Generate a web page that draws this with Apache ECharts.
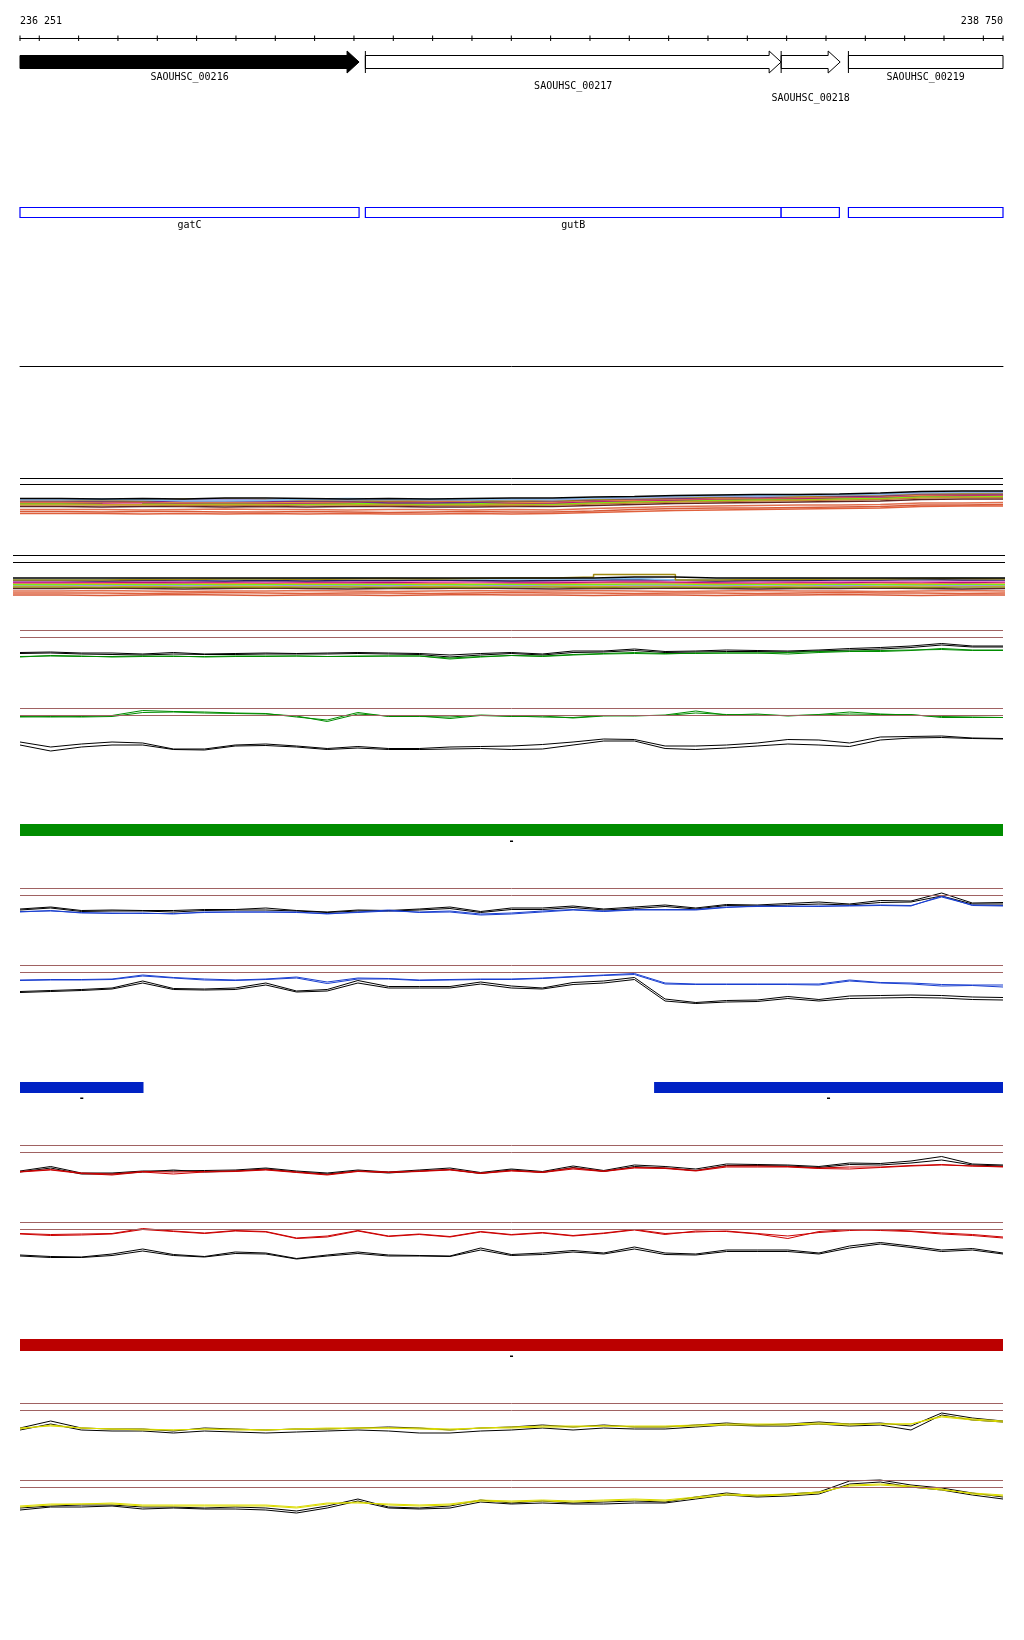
<!DOCTYPE html>
<html><head><meta charset="utf-8">
<script src="https://cdn.jsdelivr.net/npm/echarts@6/dist/echarts.min.js"></script>
<style>html,body{margin:0;padding:0;background:#fff}#chart{width:1024px;height:1640px}</style>
</head><body><div id="chart"></div>
<script>
// ---------- coordinates of the view (bp) ----------
const VIEW_START = 236251;
const VIEW_END = 238750;
const RULER_LABELS = [236251, 238750];
const RULER_TICKS = [236251,236300,236400,236500,236600,236700,236800,236900,237000,237100,237200,237300,237400,237500,237600,237700,237800,237900,238000,238100,238200,238300,238400,238500,238600,238700,238750];

// ---------- genes ----------
const GENE_NAMES = ['SAOUHSC_00216','SAOUHSC_00217','SAOUHSC_00218','SAOUHSC_00219'];
const GENE_START = [236000, 237129, 238186, 238357];
const GENE_END = [237113, 238186, 238336, 238900];
const GENE_FILLED = [1, 0, 0, 0];
const GENE_LABEL_ROW = [0, 1, 2, 0];

// ---------- domains ----------
const DOMAIN_NAMES = ['gatC', 'gutB', '', ''];
const DOMAIN_START = [236000, 237129, 238186, 238357];
const DOMAIN_END = [237113, 238186, 238334, 238900];

// ---------- strand bars ----------
const GREEN_BAR_START = [236251];
const GREEN_BAR_END = [238750];
const GREEN_BAR_LABEL = ['-'];
const BLUE_BAR_START = [236251, 237863];
const BLUE_BAR_END = [236565, 238750];
const BLUE_BAR_LABEL = ['-', '-'];
const RED_BAR_START = [236251];
const RED_BAR_END = [238750];
const RED_BAR_LABEL = ['-'];

// ---------- sample positions for the signal lines ----------
const SAMPLE_POS = [236251,236329,236407,236485,236563,236641,236720,236798,236876,236954,237032,237110,237188,237266,237344,237422,237500,237579,237657,237735,237813,237891,237969,238047,238125,238203,238282,238360,238438,238516,238594,238672,238750];

// green section
const GA_REF = [34.5, 27.5];
const GA_black1 = [12.5,13,12,12,11,12.5,11,11.5,12,11.5,12,12.5,12,11.5,10,11.5,12.5,11,14,14,16,13.5,14,15,14.5,14,15,16.5,17.5,19,21.5,19,19];
const GA_black2 = [11.5,12,11,10.5,10,11,10.5,10.5,11,11,11,11.5,11,10.5,8,10,11.5,10,12.5,13,14.5,12.5,13,13.5,13.5,13,14,15,16,17.5,20,18,18];
const GA_green1 = [8,9.5,9,8,8.5,9,8,8.5,8.5,9,8.5,9,9,9,6,8,9.5,9,10.5,11.5,12.5,11.5,11.5,12,12,11,12.5,13.5,13.5,14.5,16.5,15,15];
const GA_green2 = [8.5,9,8.5,8.5,9,8.5,8.5,9,9,9,8.5,8.5,9,9,7,8.5,9.5,8.5,10,11,11.5,11,12,12,12,12.5,13.5,14,14.5,15,15.5,14.5,14.5];
const GB_REF = [51.5, 44.5];
const GB_green1 = [43.5,43,43.5,44.5,49.5,48.5,48,47,46.5,43,40,47.5,43.5,43.5,43,45,44,43,42.5,44.5,44,45,49,45,46,44,45.5,48,46,45,43.5,43,42.5];
const GB_green2 = [43,43.5,43,43.5,47.5,48,47,46.5,46,44,38.5,46,44,44,41.5,44.5,43.5,44,42,44,44.5,44.5,47,45.5,45,44.5,45,46,45.5,45.5,42.5,42.5,42.5];
const GB_black1 = [18,13,16,18,17,11,11,15,16,14,11.5,13.5,11.5,11.5,13,13.5,14,15.5,18,21,20.5,14,14,15,17,20.5,20,17,23,23.5,24,22,21.5];
const GB_black2 = [15,9,13,15,15,10.5,10,14,14.5,13,10.5,12,10.5,10.5,11,11.5,10.5,11,15,19,19,11.5,10.5,12,14,16,15,13.5,20,22,22.5,21.5,21];

// blue section
const BA_REF = [31.5, 24.5];
const BA_black1 = [11,13,9.5,10,9.5,9.5,10.5,10.5,12,9.5,8,10,9.5,11,13,8.5,12,12,14,11,13,15,12,15.5,15,16.5,18,16,19.5,19,27,17,17.5];
const BA_black2 = [10,12,8.5,9,9,8,9.5,10,10,9,7.5,9,9,10,11.5,7.5,10.5,10.5,12.5,10,11.5,13.5,11,14.5,14,15,16,15,17.5,18,24,16,16];
const BA_blue1 = [8,9.5,7,7,6.5,6.5,7.5,8,8,7.5,6.5,7.5,9,8,9,6,7,9,10.5,9,10.5,10.5,10.5,13,13.5,14,13.5,14.5,15,14.5,23,15,14.5];
const BA_blue2 = [8.5,9,7.5,6.5,7,6,8,8,8,8,6,8,10,7.5,8,5,6,8,10,8.5,10,10,10,12.5,14,13.5,14,14,14.5,14,24,14.5,14];
const BB_REF = [44.5, 37.5];
const BB_blue1 = [30,30.5,30.5,31,35,32.5,31,30,31,33,28,32,31.5,30,30.5,31,31,32,33.5,35,36.5,27,26,26,26,26,26,30,27.5,27,25.5,25,25];
const BB_blue2 = [29.5,30,30,30.5,34,32,30,29.5,30.5,32,26.5,31,31,29.5,30,30.5,30.5,31.5,33,34.5,35.5,26,25.5,25.5,25.5,25.5,25,29,27,26,24,24.5,23];
const BB_black1 = [18.5,19.5,20.5,22,29,21.5,21,22,27,19,20.5,29.5,23.5,23.5,23.5,28,24,22,27.5,29,32.5,11,7.5,9.5,10,13.5,10.5,14,14.5,15,14.5,13,12.5];
const BB_black2 = [17.5,18.5,19.5,21,27,20.5,20,20.5,25,18,19,27,22,22,22,26,22,21,25.5,27,30.5,9,6.5,8,8.5,11.5,9,11.5,12,12.5,12,10.5,10];

// red section
const RA_REF = [34.5, 27.5];
const RA_black1 = [9,13.5,7,7,9,9,9.5,10,12,9,7,10,8,10,12,7.5,11,8.5,14,9.5,15,13.5,11,16,15.5,15,13.5,17,16.5,19,23.5,16,15];
const RA_black2 = [8,12,6,6,8,10,8,9,11,8,6,9,7,9,10.5,6.5,10,7.5,12.5,8.5,13.5,12,9.5,14.5,14.5,14,12.5,15.5,15,17,20,15,14];
const RA_red1 = [8,10,6.5,5,8,6,8,8.5,10,7.5,5,8.5,7.5,8.5,10,6.5,9,7.5,11,8.5,12,11.5,9,13,13,13,11.5,11,12.5,14,15,14,13.5];
const RA_red2 = [8.5,10.5,7,6,8.5,8,8.5,9,10.5,8,5.5,9,8,9,10.5,7,9.5,8,12,9,12.5,12,9.5,14,14,13.5,12,13,13,14.5,15.5,14,13];
const RB_REF = [42.5, 35.5];
const RB_red1 = [31.5,30.5,31,31.5,36.5,34,32,34.5,33.5,27,29,34.5,29,31,28.5,33.5,30.5,32.5,29.5,32,35.5,31.5,33,34,31.5,29,32.5,34.5,35.5,34,32,30.5,28];
const RB_red2 = [31,29.5,30,31,35.5,33.5,31.5,34,33,26.5,28,34,28.5,30.5,28,33,30,32,29,31.5,35,30.5,34,33.5,31,26.5,33.5,35.5,34.5,33.5,31,29.5,27];
const RB_black1 = [10,8.5,8,11,16,10.5,8.5,13,12,6.5,10,13,10,9.5,9,17,10.5,12,14.5,12,18,12,11,15,15,15,12,19,22.5,19,15,16.5,12];
const RB_black2 = [9,7.5,7.5,9.5,14,9.5,8,11.5,11,6,9,11.5,9,9,8.5,15,9.5,10.5,13,11,16,10.5,10,13.5,13.5,13.5,11,17,21,17.5,13.5,15,11];

// yellow section
const YA_REF = [36.5, 29.5];
const YA_black1 = [12,19,12,11,11,9,12,11,10,11,11,12,13,12,10,12,13,15,13,15,13,13,15,17,15,16,18,16,17,14,27,22,19];
const YA_black2 = [10,16,10,9,9,7,9,8,7,8,9,10,9,7,7,9,10,12,10,12,11,11,13,15,14,14,16,14,15,10,25,20,18];
const YA_yellow1 = [11,15,12,11,11,10,11,11,10,11,11,12,12,11,10,12,12,13,13,14,13,13,14,15,15,15,16,15,16,16,24,21,19];
const YA_yellow2 = [12,14,12,11,10,10,11,10,10,11,12,12,12,12,11,12,13,14,14,14,14,14,15,16,16,16,17,16,16,16,23,20,18];
const YB_REF = [39.5, 32.5];
const YB_black1 = [12,14,15,15,13,13,12,13,12,9,14,21,13,12,14,20,17,19,17,18,19,18,23,27,24,26,28,39,40,35,32,27,23];
const YB_black2 = [10,13,13,14,11,12,11,11,10,7,12,19,12,11,12,18,16,17,16,16,17,17,21,25,23,24,26,36,38,33,30,25,21];
const YB_yellow1 = [13,15,16,16,14,14,14,14,14,12,16,18,15,14,15,19,18,19,18,19,20,19,22,25,24,25,27,35,36,34,31,26,24];
const YB_yellow2 = [14,16,16,17,15,15,15,15,15,13,17,17,16,15,16,20,19,20,19,20,21,20,23,26,25,26,28,34,35,33,30,27,25];

// ---------- multi-sample tracks ----------
const T1_POS = [236251,236355,236459,236563,236668,236772,236876,236980,237084,237188,237293,237397,237501,237605,237709,237813,237917,238021,238126,238230,238334,238438,238542,238646,238750];
const T1_REF = [41.5, 35.5];
const T1_black =     [21.5,21,21.5,21,22,22,21.5,21,21.5,21,21.5,22,22,23,23.5,24.5,25,25.5,25.5,26,27,28.5,29,29,29];
const T1_lightblue = [21,21,20.5,19,19,19.5,21,21.5,21,21,20.5,21,21,22,23,24,24.5,24.5,25,25.5,26,28,28,28.5,28.5];
const T1_lavender =  [20,20.5,20,20,20.5,20,20.5,20,20.5,20,20,20.5,20,21.5,22,23,24,23.5,24.5,25,25.5,27,27.5,27.5,28];
const T1_olive =     [19.5,19.5,19,21,21,20.5,19.5,19.5,19,19.5,19.5,19,19.5,20.5,21.5,22.5,23,23.5,23.5,24.5,25,26.5,26.5,27,27];
const T1_purple =    [19,18.5,19,18.5,18.5,18.5,19,18.5,17,17,17.5,18.5,19,20,21,21.5,22.5,22.5,23.5,23.5,24,26,26,26,26.5];
const T1_orange =    [18,18,18.5,17.5,18,17.5,18,18,17.5,18,18,17.5,18,19.5,20,21,21.5,22,22.5,23,23.5,25,25.5,25.5,25.5];
const T1_magenta =   [17.5,17,17.5,17,17.5,17,17,17.5,18.5,18.5,18,17,17,18.5,19.5,20,21,21.5,21.5,22.5,23,24.5,24.5,25,25];
const T1_green =     [16.5,16.5,20,16.5,16.5,16.5,16,16.5,16.5,16,16.5,16.5,16,17.5,18.5,19.5,20,20.5,21,21.5,22,23.5,24,24,24.5];
const T1_gold =      [16,15.5,15.5,16,15.5,16,15.5,15.5,16,15.5,15.5,16,15.5,17,18,18.5,19.5,20,20,21,21.5,23,23,23.5,23.5];
const T1_peru =      [15,15,15,14.5,15,14.5,15,15,14.5,15,14.5,14.5,15,16,17,18,18.5,19,19.5,20,20.5,22,22.5,22.5,22.5];
const T1_brown =     [13.5,13,13.5,13.5,13,13.5,13,13.5,13.5,13,13,13.5,13.5,14.5,15.5,16.5,17,17.5,18,18.5,19,20.5,21,21,21];
const T1_salmon =    [10.5,10.5,10,10.5,11,10.5,10.5,10,10.5,10.5,10,10.5,10,11.5,12.5,13.5,14,14.5,15,15,15.5,17,17,17.5,17.5];
const T1_tomato =    [8.5,8,8.5,8.5,8,8,8.5,8,7.5,8,8.5,8,8,9,10.5,11.5,12,12,12.5,13,13.5,15,15,15.5,15.5];
const T1_coral =     [6.5,6.5,6,6.5,6,6.5,6,6.5,6,6,6.5,6,6.5,7.5,8.5,9.5,10,10.5,11,11.5,12,13.5,14,14,14];

const T2_POS = [236233,236355,236459,236563,236668,236772,236876,236980,237084,237188,237293,237397,237501,237605,237709,237813,237917,238021,238126,238230,238334,238438,238542,238646,238755];
const T2_REF = [44.5, 37.5];
const T2_black =     [22,22,22,22,22,22,22,22,22,22,22,22,22,22,23,23,22,22,22,22,22,22,22,22,22];
const T2_lightblue = [20.5,20.5,21,20.5,20.5,21,21.5,22,21.5,21.5,21,21,21,21,21.5,20,20.5,21,21.5,21,21.5,21.5,22,21.5,21.5];
const T2_olive =     [20,20,20.5,20.5,21,21,20.5,21,21.5,21,21.5,22,22,23,25.5,25.5,20,20.5,20.5,21,21,21.5,21.5,21,21];
const T2_navy =      [19.5,19,19.5,19.5,19,19.5,19,19.5,19.5,20,19.5,19,19.5,20,20.5,20,19,19.5,19.5,20,20,20.5,20,20,20];
const T2_pink =      [18.5,18.5,19,18.5,18.5,18,18.5,18.5,19,18.5,18,18.5,18.5,19,19.5,19,18.5,18,18.5,18.5,19,18.5,19,18.5,18.5];
const T2_magenta =   [17.5,18,17.5,17.5,18,17.5,18,17.5,17.5,18,18,17.5,17.5,18,18.5,18,17.5,17.5,18,17.5,18,18,17.5,18,18];
const T2_orange =    [17,16.5,17,17,16.5,17,16.5,17,17,16.5,17,17,16.5,17,17.5,17,16.5,17,16.5,17,17,16.5,17,17,17];
const T2_green =     [15.5,16,15.5,16,15.5,15.5,16,15.5,16,15.5,15.5,16,15.5,15.5,16,16,15.5,16,15.5,16,15.5,15.5,16,15.5,16];
const T2_lavender =  [15,14.5,15,14.5,15,15,14.5,15,14.5,15,15,14.5,15,15,15,15,14.5,15,15,14.5,15,15,14.5,15,15];
const T2_gold =      [14,14,13.5,14,14,13.5,14,14,14,13.5,14,14,14,13.5,14,14,14,13.5,14,14,13.5,14,14,14,14];
const T2_olivedrab = [13,12.5,13,12.5,13,12.5,13,13,12.5,13,12.5,13,13,12.5,13,13,12.5,13,12.5,13,13,12.5,13,13,13];
const T2_brown =     [11.5,12,11.5,11,11.5,12,11.5,11,11.5,11.5,12,11.5,11,11.5,11.5,12,11.5,11,11.5,11.5,12,11.5,11,11.5,11.5];
const T2_salmon =    [9,9.5,9,8.5,9,9,9.5,9,8.5,9,9.5,9,9,9.5,9,8.5,9,9.5,9,9,8.5,9,9.5,9,9];
const T2_coral =     [7,7,6.5,7,7.5,7,6.5,7,7,6.5,7,7.5,7,7,6.5,7,7,6.5,7,7.5,7,7,6.5,7,7];
const T2_tomato =    [5,4.5,5,5.5,5,4.5,5,5,4.5,5,5.5,5,5,4.5,5,5,4.5,5,5,5.5,5,4.5,5,5,5];

// ---------- styles ----------
const FONT = '10px "DejaVu Sans Mono", monospace';
const BLACK = '#000000', GREEN = '#008c00', BLUE = '#1a3fd0', RED = '#cc0000', YELLOW = '#dcdc00', BROWN = '#a06262';
const LABEL_ROW_OFFSETS = [3.5, 12.5, 24.5];

const option = { animation: false, backgroundColor: '#ffffff', grid: [], xAxis: [], yAxis: [], series: [] };

function addGrid(cfg) {
  const gi = option.grid.length;
  option.grid.push({ left: cfg.left ?? 20, right: cfg.right ?? 21, top: cfg.top, height: cfg.height, containLabel: false });
  option.xAxis.push({
    gridIndex: gi, type: 'value', min: cfg.xmin ?? VIEW_START, max: cfg.xmax ?? VIEW_END,
    position: cfg.xpos || 'bottom', show: !!cfg.axisLine,
    axisLine: { show: !!cfg.axisLine, onZero: false, lineStyle: { color: '#000', width: 1 } },
    axisTick: { show: false }, axisLabel: { show: false }, splitLine: { show: false }
  });
  option.yAxis.push({ gridIndex: gi, type: 'value', min: 0, max: cfg.height, show: false, splitLine: { show: false } });
  return gi;
}
function refLines(vals, color) {
  return { silent: true, symbol: ['none', 'none'], label: { show: false }, emphasis: { disabled: true },
    lineStyle: { color: color, width: 1, type: 'solid' }, data: vals.map(v => ({ yAxis: v })) };
}

// ---------- ruler ----------
const gRuler = addGrid({ top: 38, height: 5, axisLine: true, xpos: 'top' });
option.series.push({
  type: 'custom', xAxisIndex: gRuler, yAxisIndex: gRuler, silent: true,
  data: RULER_TICKS.map(v => [v, 0]),
  renderItem: (params, api) => {
    const cs = params.coordSys; const x = api.coord([api.value(0), 0])[0];
    return { type: 'line', shape: { x1: x, y1: cs.y - 2.5, x2: x, y2: cs.y + 3 }, style: { stroke: '#000', lineWidth: 1 } };
  }
});
option.series.push({
  type: 'custom', xAxisIndex: gRuler, yAxisIndex: gRuler, silent: true,
  data: RULER_LABELS.map(v => [v, 0]),
  renderItem: (params, api) => {
    const cs = params.coordSys; const x = api.coord([api.value(0), 0])[0];
    const txt = String(api.value(0)).replace(/\B(?=(\d{3})+(?!\d))/g, ' ');
    return { type: 'text', style: { text: txt, x: x, y: cs.y - 17, align: params.dataIndex === 0 ? 'left' : 'right', verticalAlign: 'middle', font: FONT, fill: '#000' } };
  }
});

// ---------- genes ----------
const gGenes = addGrid({ top: 50, height: 24 });
option.series.push({
  type: 'custom', xAxisIndex: gGenes, yAxisIndex: gGenes, silent: true,
  data: GENE_START.map((s, i) => [s, GENE_END[i], GENE_FILLED[i], GENE_LABEL_ROW[i]]),
  renderItem: (params, api) => {
    const cs = params.coordSys; const i = params.dataIndex;
    let x0 = api.coord([api.value(0), 0])[0], x1 = api.coord([api.value(1), 0])[0];
    const L = cs.x, R = cs.x + cs.width;
    const clipL = x0 < L, clipR = x1 > R;
    x0 = Math.max(x0, L); x1 = Math.min(x1, R);
    const yc = cs.y + 12; const bt = yc - 6.5, bb = yc + 6.5, ht = yc - 11, hb = yc + 11;
    const filled = api.value(2) === 1; const row = api.value(3);
    let pts;
    if (clipR) pts = [[x0, bt], [x1, bt], [x1, bb], [x0, bb]];
    else { const xh = x1 - 12; pts = [[x0, bt], [xh, bt], [xh, ht], [x1, yc], [xh, hb], [xh, bb], [x0, bb]]; }
    const children = [{ type: 'polygon', shape: { points: pts }, style: { fill: filled ? '#000' : '#fff', stroke: '#000', lineWidth: 1 } }];
    if (!clipL) children.push({ type: 'line', shape: { x1: x0, y1: ht, x2: x0, y2: hb }, style: { stroke: '#000', lineWidth: 1 } });
    children.push({ type: 'text', style: { text: GENE_NAMES[i], x: (x0 + x1) / 2, y: cs.y + cs.height + LABEL_ROW_OFFSETS[row], align: 'center', verticalAlign: 'middle', font: FONT, fill: '#000' } });
    return { type: 'group', children };
  }
});

// ---------- domains (with separator line below) ----------
const gDom = addGrid({ top: 207, height: 159, axisLine: true });
option.series.push({
  type: 'custom', xAxisIndex: gDom, yAxisIndex: gDom, silent: true,
  data: DOMAIN_START.map((s, i) => [s, DOMAIN_END[i]]),
  renderItem: (params, api) => {
    const cs = params.coordSys; const i = params.dataIndex;
    let x0 = api.coord([api.value(0), 0])[0], x1 = api.coord([api.value(1), 0])[0];
    x0 = Math.max(x0, cs.x); x1 = Math.min(x1, cs.x + cs.width);
    const children = [{ type: 'rect', shape: { x: x0, y: cs.y + 0.5, width: x1 - x0, height: 10 }, style: { fill: '#fff', stroke: '#0000ff', lineWidth: 1.2 } }];
    if (DOMAIN_NAMES[i]) children.push({ type: 'text', style: { text: DOMAIN_NAMES[i], x: (x0 + x1) / 2, y: cs.y + 18, align: 'center', verticalAlign: 'middle', font: FONT, fill: '#000' } });
    return { type: 'group', children };
  }
});

// ---------- multi-sample tracks ----------
const T1_SERIES = [[T1_coral,'#e0603c'],[T1_tomato,'#d85a38'],[T1_salmon,'#e07050'],[T1_brown,'#5c2222'],[T1_peru,'#c07a3a'],[T1_gold,'#c9a227'],[T1_green,'#77ee11'],[T1_magenta,'#b8107a'],[T1_orange,'#f28a3c'],[T1_purple,'#7b2a86'],[T1_olive,'#a08a12'],[T1_lavender,'#9b9fdc'],[T1_lightblue,'#86c0ee'],[T1_black,'#000000']];
const T2_SERIES = [[T2_tomato,'#d85a38'],[T2_coral,'#e0603c'],[T2_salmon,'#e07050'],[T2_brown,'#5c2222'],[T2_olivedrab,'#7a8c1e'],[T2_gold,'#c9a227'],[T2_lavender,'#9b9fdc'],[T2_green,'#77ee11'],[T2_orange,'#f28a3c'],[T2_magenta,'#b8107a'],[T2_pink,'#e87ad0'],[T2_navy,'#23235a'],[T2_lightblue,'#86c0ee'],[T2_olive,'#a08a12'],[T2_black,'#000000']];
function addMultiTrack(cfg, pos, list, refs) {
  const gi = addGrid(cfg);
  list.forEach((s, k) => {
    option.series.push({
      type: 'line', xAxisIndex: gi, yAxisIndex: gi, step: 'end', symbol: 'none', silent: true,
      data: pos.map((x, i) => [x, s[0][i]]), lineStyle: { color: s[1], width: 1.5 },
      markLine: k === 0 ? refLines(refs, '#000') : undefined
    });
  });
}
addMultiTrack({ top: 475, height: 45 }, T1_POS, T1_SERIES, T1_REF);
addMultiTrack({ top: 550, height: 50, left: 13, right: 19, xmin: 236233, xmax: 238755 }, T2_POS, T2_SERIES, T2_REF);

// ---------- signal tracks ----------
const LINE_TRACKS = [
  { top: 625, height: 40, refs: GA_REF, lines: [[GA_black1, BLACK], [GA_black2, BLACK], [GA_green1, GREEN], [GA_green2, GREEN]] },
  { top: 700, height: 60, refs: GB_REF, lines: [[GB_green1, GREEN], [GB_green2, GREEN], [GB_black1, BLACK], [GB_black2, BLACK]] },
  { top: 880, height: 40, refs: BA_REF, lines: [[BA_black1, BLACK], [BA_black2, BLACK], [BA_blue1, BLUE], [BA_blue2, BLUE]] },
  { top: 955, height: 55, refs: BB_REF, lines: [[BB_blue1, BLUE], [BB_blue2, BLUE], [BB_black1, BLACK], [BB_black2, BLACK]] },
  { top: 1140, height: 40, refs: RA_REF, lines: [[RA_black1, BLACK], [RA_black2, BLACK], [RA_red1, RED], [RA_red2, RED]] },
  { top: 1215, height: 50, refs: RB_REF, lines: [[RB_red1, RED], [RB_red2, RED], [RB_black1, BLACK], [RB_black2, BLACK]] },
  { top: 1395, height: 45, refs: YA_REF, lines: [[YA_black1, BLACK], [YA_black2, BLACK], [YA_yellow1, YELLOW], [YA_yellow2, YELLOW]] },
  { top: 1470, height: 50, refs: YB_REF, lines: [[YB_black1, BLACK], [YB_black2, BLACK], [YB_yellow1, YELLOW], [YB_yellow2, YELLOW]] }
];
LINE_TRACKS.forEach(t => {
  const gi = addGrid(t);
  t.lines.forEach((l, k) => {
    option.series.push({
      type: 'line', xAxisIndex: gi, yAxisIndex: gi, symbol: 'none', silent: true,
      data: SAMPLE_POS.map((x, i) => [x, l[0][i]]), lineStyle: { color: l[1], width: 1 },
      markLine: k === 0 ? refLines(t.refs, BROWN) : undefined
    });
  });
});

// ---------- strand bars ----------
function addBars(top, height, starts, ends, labels, color) {
  const gi = addGrid({ top, height });
  option.series.push({
    type: 'custom', xAxisIndex: gi, yAxisIndex: gi, silent: true,
    data: starts.map((s, i) => [s, ends[i]]),
    renderItem: (params, api) => {
      const cs = params.coordSys; const i = params.dataIndex;
      const x0 = api.coord([api.value(0), 0])[0], x1 = api.coord([api.value(1), 0])[0];
      return { type: 'group', children: [
        { type: 'rect', shape: { x: x0, y: cs.y, width: x1 - x0, height: cs.height }, style: { fill: color } },
        { type: 'text', style: { text: labels[i], x: (x0 + x1) / 2, y: cs.y + cs.height + 5, align: 'center', verticalAlign: 'middle', font: 'bold ' + FONT, fill: '#000' } }
      ] };
    }
  });
}
addBars(824, 12, GREEN_BAR_START, GREEN_BAR_END, GREEN_BAR_LABEL, '#008c00');
addBars(1082, 11, BLUE_BAR_START, BLUE_BAR_END, BLUE_BAR_LABEL, '#0022c4');
addBars(1339, 12, RED_BAR_START, RED_BAR_END, RED_BAR_LABEL, '#bb0000');

const chart = echarts.init(document.getElementById('chart'), null, { renderer: 'canvas' });
chart.setOption(option);
</script></body></html>
